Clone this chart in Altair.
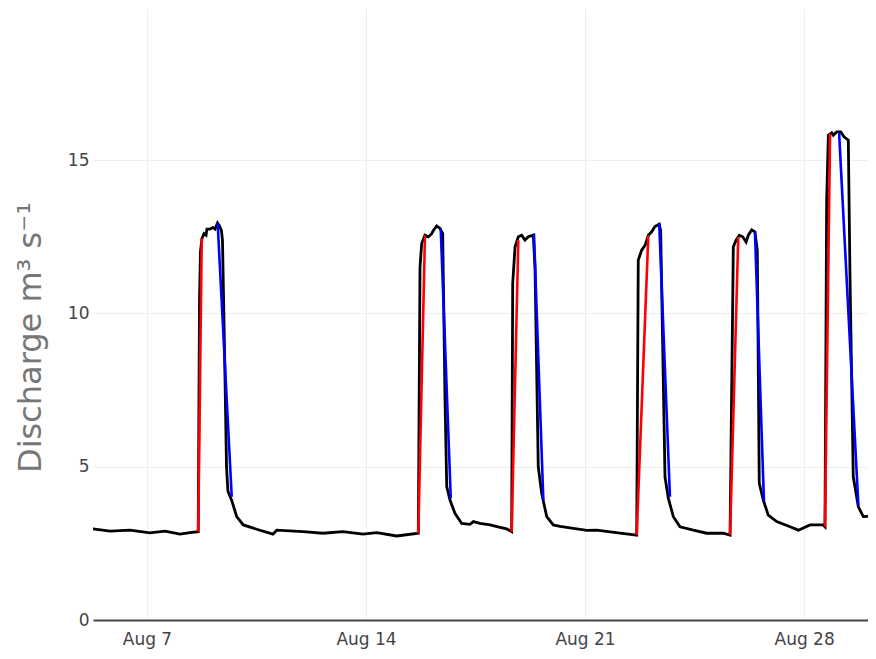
import altair as alt
import pandas as pd

YEAR = "2016"

# Discharge series (black line): timestamps (Aug, local time) and values in m3/s
q_time = [
    "08-05 06:36", "08-05 19:36", "08-06 11:00", "08-07 02:18", "08-07 13:48", "08-08 01:18",
    "08-08 09:00", "08-08 15:18", "08-08 16:18", "08-08 17:00", "08-08 18:12", "08-08 19:42",
    "08-08 21:18", "08-08 22:00", "08-09 00:18", "08-09 02:36", "08-09 04:12", "08-09 06:06",
    "08-09 07:36", "08-09 09:06", "08-09 09:54", "08-09 11:24", "08-09 13:00", "08-09 14:06",
    "08-09 17:00", "08-09 20:48", "08-10 01:54", "08-10 12:06", "08-11 00:36", "08-11 03:30",
    "08-11 23:42", "08-12 15:00", "08-13 06:18", "08-13 21:42", "08-14 08:12", "08-14 23:30",
    "08-15 16:06", "08-15 17:24", "08-15 18:42", "08-15 21:12", "08-15 23:48", "08-16 02:24",
    "08-16 03:36", "08-16 06:12", "08-16 08:42", "08-16 10:48", "08-16 12:36", "08-16 13:54",
    "08-16 16:24", "08-16 20:12", "08-17 01:24", "08-17 07:42", "08-17 10:18", "08-17 15:24",
    "08-17 23:06", "08-18 06:48", "08-18 11:54", "08-18 15:42", "08-18 16:30", "08-18 18:18",
    "08-18 20:48", "08-18 23:24", "08-19 01:54", "08-19 04:30", "08-19 08:18", "08-19 09:36",
    "08-19 12:06", "08-19 14:42", "08-19 18:36", "08-19 23:36", "08-20 04:48", "08-21 01:18",
    "08-21 08:54", "08-22 02:48", "08-22 15:36", "08-22 16:48", "08-22 19:24", "08-22 22:00",
    "08-23 00:30", "08-23 03:06", "08-23 05:36", "08-23 08:54", "08-23 10:00", "08-23 13:18",
    "08-23 15:48", "08-23 19:42", "08-24 00:48", "08-24 11:00", "08-24 21:18", "08-25 10:00",
    "08-25 15:12", "08-25 17:42", "08-25 19:48", "08-25 22:18", "08-26 00:54", "08-26 03:30",
    "08-26 05:12", "08-26 07:48", "08-26 10:18", "08-26 12:06", "08-26 13:36", "08-26 16:42",
    "08-26 20:30", "08-27 03:00", "08-27 13:12", "08-27 19:36", "08-28 04:30", "08-28 14:42",
    "08-28 16:00", "08-28 17:18", "08-28 18:36", "08-28 21:12", "08-28 22:24", "08-29 01:00",
    "08-29 04:06", "08-29 06:36", "08-29 09:54", "08-29 11:12", "08-29 13:42", "08-29 17:36",
    "08-29 21:24", "08-30 06:24",
]
q_value = [
    2.97, 2.90, 2.93, 2.84, 2.90, 2.80,
    2.85, 2.88, 10.5, 12.0, 12.45, 12.6,
    12.55, 12.75, 12.75, 12.8, 12.75, 12.95,
    12.85, 12.7, 12.4, 9.0, 5.0, 4.2,
    3.9, 3.37, 3.1, 2.96, 2.8, 2.93,
    2.88, 2.83, 2.88, 2.8, 2.85, 2.74,
    2.83, 11.5, 12.28, 12.55, 12.5, 12.6,
    12.7, 12.85, 12.77, 12.6, 7.17, 4.35,
    3.91, 3.48, 3.15, 3.12, 3.21, 3.15,
    3.10, 3.02, 2.97, 2.88, 10.98, 12.17,
    12.5, 12.55, 12.39, 12.5, 12.55, 11.5,
    5.0, 4.13, 3.37, 3.10, 3.05, 2.92,
    2.93, 2.83, 2.77, 11.74, 12.06, 12.22,
    12.55, 12.66, 12.83, 12.91, 12.7, 4.67,
    3.98, 3.37, 3.04, 2.93, 2.83, 2.83,
    2.77, 12.17, 12.39, 12.55, 12.5, 12.33,
    12.55, 12.72, 12.66, 12.06, 4.46, 3.91,
    3.42, 3.21, 3.04, 2.93, 3.10, 3.10,
    3.04, 13.69, 15.81, 15.89, 15.81, 15.92,
    15.92, 15.76, 15.65, 11.19, 4.67, 3.69,
    3.37, 3.39,
]

# Rising limbs (red): start and end of each
rise_t0 = ["08-08 15:18", "08-15 16:06", "08-18 15:42", "08-22 15:36", "08-25 15:12", "08-28 16:00"]
rise_v0 = [2.88, 2.83, 2.88, 2.77, 2.77, 3.04]
rise_t1 = ["08-08 18:00", "08-15 21:12", "08-18 20:48", "08-23 00:30", "08-25 21:30", "08-28 19:54"]
rise_v1 = [12.45, 12.55, 12.39, 12.55, 12.5, 15.87]

# Falling limbs (blue): start and end of each
fall_t0 = ["08-09 06:12", "08-16 09:18", "08-19 08:48", "08-23 08:54", "08-26 10:18", "08-29 02:48"]
fall_v0 = [12.95, 12.77, 12.6, 12.91, 12.66, 15.92]
fall_t1 = ["08-09 17:00", "08-16 17:00", "08-19 16:00", "08-23 17:06", "08-26 17:12", "08-29 17:36"]
fall_v1 = [4.02, 3.97, 3.91, 4.02, 3.86, 3.75]

tick_days = [7, 14, 21, 28]
y_ticks = [0, 5, 10, 15]


def ts(s):
    return f"{YEAR}-{s}"


q_df = pd.DataFrame({"time": [ts(t) for t in q_time], "q": q_value})
rise_df = pd.DataFrame({
    "t0": [ts(t) for t in rise_t0], "v0": rise_v0,
    "t1": [ts(t) for t in rise_t1], "v1": rise_v1,
})
fall_df = pd.DataFrame({
    "t0": [ts(t) for t in fall_t0], "v0": fall_v0,
    "t1": [ts(t) for t in fall_t1], "v1": fall_v1,
})

FONT = "DejaVu Sans"

x_scale = alt.Scale(
    domain=[alt.DateTime(year=2016, month=8, date=5, hours=6, minutes=36),
            alt.DateTime(year=2016, month=8, date=30, hours=1)],
)
y_scale = alt.Scale(domain=[0, 19.96], nice=False, zero=False)

x_axis = alt.Axis(
    values=[alt.DateTime(year=2016, month=8, date=d) for d in tick_days],
    format="%b %-d", title=None, grid=True, gridColor="#eeeeee", gridWidth=1,
    ticks=False, domain=True, domainColor="#444444", domainWidth=2,
    labelFont=FONT, labelFontSize=17, labelColor="#444444", labelPadding=11,
    labelFlush=False,
)
y_axis = alt.Axis(
    values=y_ticks, title="Discharge m³ s⁻¹", grid=True, gridColor="#eeeeee", gridWidth=1,
    ticks=False, domain=False,
    labelFont=FONT, labelFontSize=17, labelColor="#444444", labelPadding=4,
    titleFont=FONT, titleFontSize=32, titleFontWeight="normal", titleColor="#777777",
    titlePadding=20, titleY=329,
)

base_line = alt.Chart(q_df).mark_line(color="black", strokeWidth=2.8, clip=True).encode(
    x=alt.X("time:T", scale=x_scale, axis=x_axis),
    y=alt.Y("q:Q", scale=y_scale, axis=y_axis),
)

rise = alt.Chart(rise_df).mark_rule(color="#ff0000", strokeWidth=2.6, clip=True).encode(
    x="t0:T", x2="t1:T", y="v0:Q", y2="v1:Q",
)
fall = alt.Chart(fall_df).mark_rule(color="#0000ff", strokeWidth=2.6, clip=True).encode(
    x="t0:T", x2="t1:T", y="v0:Q", y2="v1:Q",
)

chart = alt.layer(base_line, rise, fall).properties(
    width=775, height=612,
    background="white",
    autosize=alt.AutoSizeParams(type="none"),
    padding={"left": 85, "top": 0, "right": 0, "bottom": 30},
).configure_view(strokeWidth=0)

chart.save("out.html", embed_options={"renderer": "svg", "actions": False})
